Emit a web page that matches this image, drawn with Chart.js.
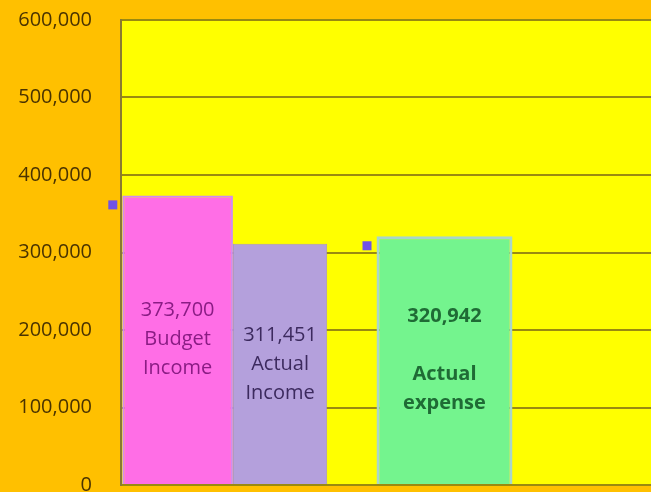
<!DOCTYPE html>
<html>
<head>
<meta charset="utf-8">
<script src="https://cdn.jsdelivr.net/npm/chart.js@4/dist/chart.umd.min.js"></script>
<style>
  html, body { margin: 0; padding: 0; background: #FFC000; overflow: hidden; }
  #wrap { width: 651px; height: 492px; overflow: hidden; }
</style>
</head>
<body>
<div id="wrap"><canvas id="myChart" width="768" height="492"></canvas></div>
<script>
// data
var groups = ["Income", "Expense", ""];
var budgetIncome = [373700, null, null];
var actualIncome = [311451, null, null];
var actualExpense = [null, 320942, null];
var barNames = ["Budget Income", "Actual Income", "Actual expense"];
var yTicks = [0, 100000, 200000, 300000, 400000, 500000, 600000];

function fmt(v) {
  return v.toLocaleString("en-US");
}

// yellow plot area
var plotBg = {
  id: "plotBg",
  beforeDraw: function (chart) {
    var a = chart.chartArea, ctx = chart.ctx;
    ctx.save();
    ctx.fillStyle = "#FFFF00";
    ctx.fillRect(a.left, a.top, a.right - a.left, a.bottom - a.top);
    ctx.restore();
  }
};

// text inside the bars + small square markers
var barText = {
  id: "barText",
  afterDatasetsDraw: function (chart) {
    var ctx = chart.ctx;
    chart.data.datasets.forEach(function (ds, i) {
      var meta = chart.getDatasetMeta(i);
      meta.data.forEach(function (el, j) {
        if (ds.data[j] == null) return;
        var lines = [fmt(ds.data[j])];
        if (ds.gapLine) lines.push("");
        lines = lines.concat(ds.label.split(" "));
        var lh = 29;
        var mid = (el.y + el.base) / 2;
        var y0 = mid - (lines.length - 1) * lh / 2;
        ctx.save();
        ctx.font = (ds.textBold ? "bold " : "") + "20px 'Open Sans'";
        ctx.fillStyle = ds.textColor;
        ctx.textAlign = "center";
        ctx.textBaseline = "middle";
        lines.forEach(function (t, k) {
          ctx.fillText(t, el.x, y0 + k * lh);
        });
        if (ds.marker) {
          ctx.fillStyle = "#7052E6";
          ctx.fillRect(el.x - el.width / 2 - 14, el.y + 5, 9, 9);
        }
        ctx.restore();
      });
    });
  }
};

var config = {
  type: "bar",
  data: {
    labels: groups,
    datasets: [{
      label: barNames[0],
      data: budgetIncome,
      backgroundColor: "#FF6EE6",
      borderColor: "#D08CF2",
      borderWidth: 2,
      skipNull: true,
      categoryPercentage: 0.95,
      barPercentage: 1.08,
      textColor: "#8A1C84",
      marker: true
    }, {
      label: barNames[1],
      data: actualIncome,
      backgroundColor: "#B4A0DC",
      borderColor: "#A894CC",
      borderWidth: 1,
      skipNull: true,
      categoryPercentage: 0.95,
      barPercentage: 0.92,
      textColor: "#3C2A5E"
    }, {
      label: barNames[2],
      data: actualExpense,
      backgroundColor: "#74F48E",
      borderColor: "#A8D6CC",
      borderWidth: 3,
      skipNull: true,
      categoryPercentage: 0.97,
      barPercentage: 0.65,
      textColor: "#1F6B35",
      textBold: true,
      gapLine: true,
      marker: true
    }]
  },
  options: {
    responsive: false,
    animation: false,
    layout: { padding: { left: 15, top: 20, right: 0, bottom: 7 } },
    plugins: {
      legend: { display: false },
      tooltip: { enabled: false }
    },
    scales: {
      x: { display: false },
      y: {
        min: 0,
        max: 600000,
        afterBuildTicks: function (scale) {
          scale.ticks = yTicks.map(function (v) { return { value: v }; });
        },
        afterFit: function (scale) {
          scale.width = 106;
          scale.paddingTop = 0;
          scale.paddingBottom = 0;
        },
        ticks: {
          padding: 29,
          color: "#4A3300",
          font: { family: "'Open Sans'", size: 20 },
          callback: function (v) { return fmt(v); }
        },
        grid: { color: "#9A8A10", lineWidth: 2, drawTicks: false },
        border: { color: "#8A7A30", width: 2 }
      }
    }
  },
  plugins: [plotBg, barText]
};

const myChart = new Chart(document.getElementById("myChart"), config);
</script>
</body>
</html>
